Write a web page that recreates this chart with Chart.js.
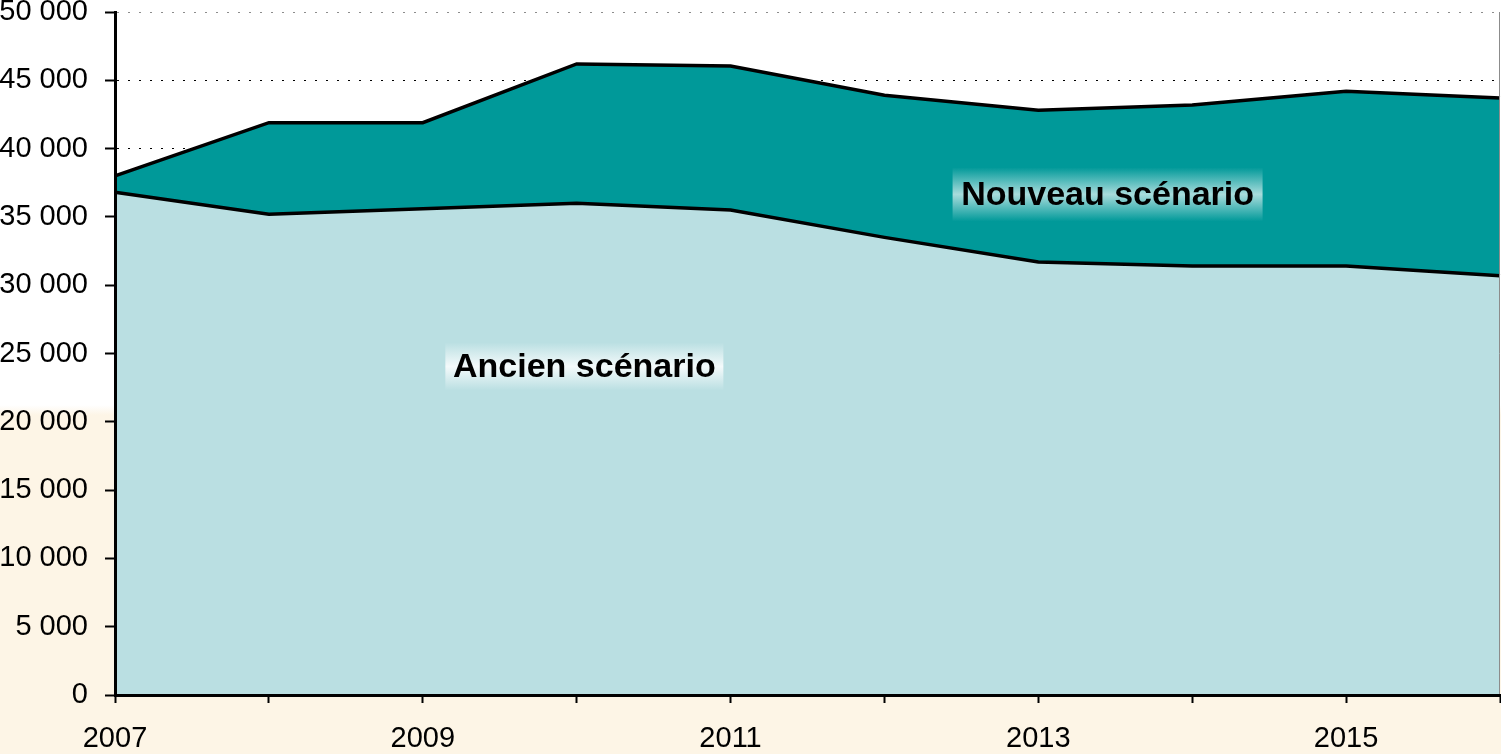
<!DOCTYPE html>
<html>
<head>
<meta charset="utf-8">
<script src="https://cdn.jsdelivr.net/npm/chart.js@4/dist/chart.umd.min.js"></script>
<style>
  html, body { margin: 0; padding: 0; }
  body {
    width: 1501px; height: 754px; overflow: hidden;
    background: linear-gradient(to bottom, #ffffff 0px, #ffffff 405px, #fdf5e6 415px, #fdf5e6 754px);
  }
  #wrap { position: relative; width: 1501px; height: 754px; }
</style>
</head>
<body>
<div id="wrap"><canvas id="myChart" width="1501" height="754"></canvas></div>
<script>
// années
const years = ['2007', '2008', '2009', '2010', '2011', '2012', '2013', '2014', '2015', '2016'];
// ancien scénario
const ancien = [36800, 35200, 35600, 36000, 35500, 33500, 31700, 31400, 31400, 30700];
// nouveau scénario (total)
const nouveau = [38000, 41900, 41900, 46200, 46050, 43900, 42800, 43200, 44200, 43700];
const yTicks = [0, 5000, 10000, 15000, 20000, 25000, 30000, 35000, 40000, 45000, 50000];

// libellés posés dans le graphique (x = indice, y = valeur)
const labels = [
    { text: 'Ancien scénario', x: 3.05, y: 24050, w: 278, h: 48, edge: '#badfe2', mid: '#f4fafb' },
    { text: 'Nouveau scénario', x: 6.45, y: 36650, w: 310, h: 54, edge: '#009999', mid: '#a8dcdc' }
];

const fmt = (v) => v.toLocaleString('fr-FR').replace(/\s/g, ' ');
const FONT = '"Liberation Sans", Arial, sans-serif';

var ctx = document.getElementById('myChart').getContext('2d');

const areaBg = {
    id: 'areaBg',
    beforeDraw: (chart) => {
        const a = chart.chartArea;
        const c = chart.ctx;
        c.save();
        c.fillStyle = '#ffffff';
        c.fillRect(a.left, a.top, a.right - a.left, a.bottom - a.top);
        c.restore();
    },
    afterDatasetsDraw: (chart) => {
        const a = chart.chartArea;
        const c = chart.ctx;
        const xs = chart.scales.x, ys = chart.scales.y;
        c.save();
        // bord droit gris
        c.strokeStyle = '#8c8c8c';
        c.lineWidth = 1;
        c.beginPath();
        c.moveTo(a.right - 0.5, a.top);
        c.lineTo(a.right - 0.5, a.bottom);
        c.stroke();
        labels.forEach(l => {
            const cx = xs.getPixelForValue(l.x);
            const cy = ys.getPixelForValue(l.y);
            const g = c.createLinearGradient(0, cy - l.h / 2, 0, cy + l.h / 2);
            g.addColorStop(0, l.edge);
            g.addColorStop(0.5, l.mid);
            g.addColorStop(1, l.edge);
            c.fillStyle = g;
            c.fillRect(cx - l.w / 2, cy - l.h / 2, l.w, l.h);
            c.fillStyle = '#000';
            c.font = 'bold 34px ' + FONT;
            c.textAlign = 'center';
            c.textBaseline = 'middle';
            c.fillText(l.text, cx, cy + 1);
        });
        c.restore();
    }
};

const myChart = new Chart(ctx, {
    type: 'line',
    data: {
        labels: years,
        datasets: [{
            label: 'Ancien scénario',
            data: ancien,
            fill: 'origin',
            backgroundColor: '#badfe2',
            borderColor: '#000',
            borderWidth: 3.5,
            pointRadius: 0,
            tension: 0
        }, {
            label: 'Nouveau scénario',
            data: nouveau,
            fill: '-1',
            backgroundColor: '#009999',
            borderColor: '#000',
            borderWidth: 3.5,
            pointRadius: 0,
            tension: 0
        }]
    },
    options: {
        responsive: false,
        animation: false,
        layout: { padding: { top: 12, right: 1, left: 0, bottom: 0 } },
        plugins: {
            legend: { display: false },
            tooltip: { enabled: false }
        },
        scales: {
            x: {
                offset: false,
                grid: {
                    drawOnChartArea: false,
                    drawTicks: true,
                    tickLength: 8,
                    tickColor: '#000',
                    tickWidth: 2
                },
                border: { color: '#000', width: 3, z: 1 },
                ticks: {
                    autoSkip: false,
                    maxRotation: 0,
                    padding: 19,
                    color: '#000',
                    font: { family: FONT, size: 29 },
                    callback: (v, i) => (i % 2 === 0 ? years[i] : '')
                },
                afterFit: (s) => { s.height = 59; s.paddingLeft = 0; s.paddingRight = 0; }
            },
            y: {
                min: 0,
                max: 50000,
                afterBuildTicks: (s) => { s.ticks = yTicks.map(v => ({ value: v })); },
                grid: {
                    color: (c) => (c.tick && c.tick.value === 50000 ? '#8c8c8c' : '#000'),
                    lineWidth: 1,
                    drawTicks: true,
                    tickLength: 10,
                    tickColor: '#000',
                    tickWidth: 2,
                    tickBorderDash: []
                },
                border: { color: '#000', width: 3, dash: [2, 9], z: 1 },
                ticks: {
                    padding: 17,
                    color: '#000',
                    font: { family: FONT, size: 29 },
                    callback: (v) => fmt(v)
                },
                afterFit: (s) => { s.width = 115; s.paddingTop = 0; s.paddingBottom = 0; }
            }
        }
    },
    plugins: [areaBg]
});
</script>
</body>
</html>
